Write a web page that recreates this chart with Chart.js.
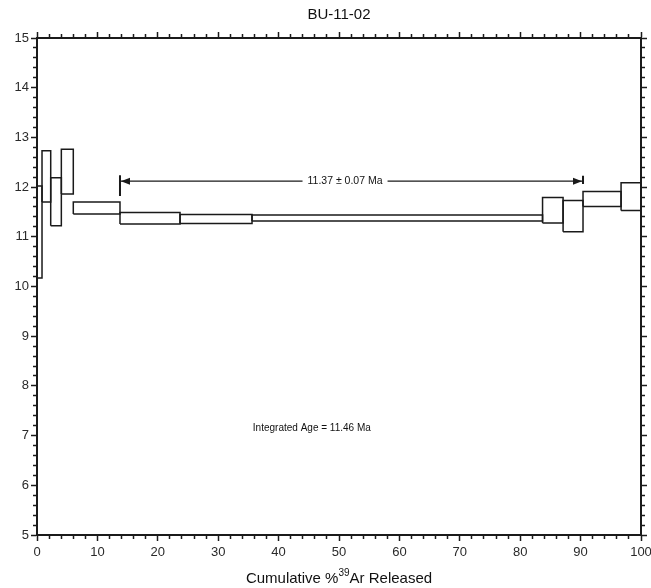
<!DOCTYPE html>
<html>
<head>
<meta charset="utf-8">
<script src="https://cdn.jsdelivr.net/npm/chart.js@4.4.1/dist/chart.umd.min.js"></script>
<style>
  html, body { margin: 0; padding: 0; background: #fff; }
  #wrap { width: 651px; height: 588px; position: relative; }
</style>
</head>
<body>
<div id="wrap"><canvas id="chart-spectrum"></canvas></div>
<script>
const sampleName = 'BU-11-02'
// axis title pieces: text, superscript, text
const xAxisLabel = ['Cumulative %', '39', 'Ar Released']

// cumulative %39Ar at each step boundary
const stepEdges = [0, 0.83, 2.27, 4.03, 6.01, 13.74, 23.68, 35.6, 83.7, 87.1, 90.4, 96.7, 100]
// age box top / bottom (Ma) for each step
const ageTop = [12.02, 12.73, 12.19, 12.76, 11.70, 11.49, 11.45, 11.44, 11.79, 11.73, 11.91, 12.09]
const ageBottom = [10.17, 11.70, 11.22, 11.86, 11.46, 11.26, 11.27, 11.32, 11.28, 11.10, 11.61, 11.53]

const plateauRange = [13.74, 90.4]
const plateauLabel = '11.37 ± 0.07 Ma'
const integratedLabel = 'Integrated Age = 11.46 Ma'

const xRange = [0, 100]
const yRange = [5, 15]

const fontFamily = '"Liberation Sans", Arial, Helvetica, sans-serif'
const ink = '#1a1a1a'

Chart.defaults.font.family = fontFamily
Chart.defaults.color = '#2a2a2a'

const datasets = ageTop.map((top, i) => {
  const x0 = stepEdges[i]
  const x1 = stepEdges[i + 1]
  const lo = ageBottom[i]
  return {
    label: 'step ' + (i + 1),
    data: [
      {x: x0, y: lo}, {x: x0, y: top}, {x: x1, y: top}, {x: x1, y: lo}, {x: x0, y: lo}
    ],
    showLine: true,
    borderColor: ink,
    borderWidth: 1.5,
    pointRadius: 0,
    fill: false,
    tension: 0,
    xAxisID: 'x',
    yAxisID: 'y'
  }
})

const isMajor = v => Math.abs(v - Math.round(v)) < 1e-6
const isMajorX = v => Math.abs(v / 10 - Math.round(v / 10)) < 1e-6

// minor ticks drawn shorter with a dash pattern
const dashOut = major => major ? [] : [3, 100]
const dashIn = major => major ? [] : [0, 2, 3, 100]

const annotations = {
  id: 'annotations',
  afterDatasetsDraw(chart) {
    const {ctx, scales: {x, y}} = chart
    const x0 = x.getPixelForValue(plateauRange[0])
    const x1 = x.getPixelForValue(plateauRange[1])
    const ay = y.getPixelForValue(12.12)
    ctx.save()
    ctx.strokeStyle = ink
    ctx.fillStyle = ink
    ctx.lineWidth = 1.3
    ctx.beginPath()
    ctx.moveTo(x0, ay)
    ctx.lineTo(x1, ay)
    ctx.stroke()

    ctx.lineWidth = 2
    ctx.beginPath()
    ctx.moveTo(x0, y.getPixelForValue(12.24))
    ctx.lineTo(x0, y.getPixelForValue(11.82))
    ctx.moveTo(x1, y.getPixelForValue(12.23))
    ctx.lineTo(x1, y.getPixelForValue(12.06))
    ctx.stroke()

    ctx.beginPath()
    ctx.moveTo(x0 + 1, ay)
    ctx.lineTo(x0 + 10, ay - 3.5)
    ctx.lineTo(x0 + 10, ay + 3.5)
    ctx.closePath()
    ctx.fill()
    ctx.beginPath()
    ctx.moveTo(x1 - 1, ay)
    ctx.lineTo(x1 - 10, ay - 3.5)
    ctx.lineTo(x1 - 10, ay + 3.5)
    ctx.closePath()
    ctx.fill()

    ctx.font = '10.5px ' + fontFamily
    ctx.textAlign = 'center'
    ctx.textBaseline = 'middle'
    const tx = x.getPixelForValue(51)
    const w = ctx.measureText(plateauLabel).width
    ctx.fillStyle = '#fff'
    ctx.fillRect(tx - w / 2 - 5, ay - 5, w + 10, 10)
    ctx.fillStyle = '#111'
    ctx.fillText(plateauLabel, tx, ay)

    ctx.font = '10px ' + fontFamily
    ctx.fillText(integratedLabel, x.getPixelForValue(45.5), y.getPixelForValue(7.15))

    // x axis title with superscript mass number
    const big = '15px ' + fontFamily
    const small = '10px ' + fontFamily
    ctx.font = big
    const w1 = ctx.measureText(xAxisLabel[0]).width
    const w3 = ctx.measureText(xAxisLabel[2]).width
    ctx.font = small
    const w2 = ctx.measureText(xAxisLabel[1]).width
    const cx = (chart.chartArea.left + chart.chartArea.right) / 2
    const by = chart.height - 5
    let px = cx - (w1 + w2 + w3) / 2
    ctx.textAlign = 'left'
    ctx.textBaseline = 'alphabetic'
    ctx.font = big
    ctx.fillText(xAxisLabel[0], px, by)
    px += w1
    ctx.font = small
    ctx.fillText(xAxisLabel[1], px, by - 7)
    px += w2
    ctx.font = big
    ctx.fillText(xAxisLabel[2], px, by)
    ctx.restore()
  }
}

const axisBorder = {display: true, color: ink, width: 2}
const tickFont = {size: 13}

new Chart(document.getElementById('chart-spectrum').getContext('2d'), {
  type: 'scatter',
  data: {datasets},
  options: {
    responsive: true,
    maintainAspectRatio: false,
    animation: false,
    layout: {padding: 0},
    plugins: {
      legend: {display: false},
      tooltip: {enabled: false},
      title: {display: false}
    },
    scales: {
      x: {
        type: 'linear',
        position: 'bottom',
        min: xRange[0],
        max: xRange[1],
        border: axisBorder,
        grid: {
          drawOnChartArea: false,
          tickLength: 6,
          tickColor: ink,
          tickWidth: 1.5,
          tickBorderDash: ctx => dashOut(isMajorX(ctx.tick.value))
        },
        ticks: {
          stepSize: 2,
          autoSkip: false,
          maxRotation: 0,
          padding: 4,
          font: tickFont,
          callback: v => isMajorX(v) ? String(Math.round(v)) : ''
        },
        afterFit: s => { s.height = 53; s.paddingLeft = 0; s.paddingRight = 0 }
      },
      x2: {
        type: 'linear',
        position: 'top',
        min: xRange[0],
        max: xRange[1],
        border: axisBorder,
        grid: {
          drawOnChartArea: false,
          tickLength: 6,
          tickColor: ink,
          tickWidth: 1.5,
          tickBorderDash: ctx => dashIn(isMajorX(ctx.tick.value))
        },
        ticks: {stepSize: 2, autoSkip: false, display: false},
        title: {
          display: true,
          text: sampleName,
          color: '#111',
          font: {size: 15},
          padding: {top: 6, bottom: 0}
        },
        afterFit: s => { s.height = 38; s.paddingLeft = 0; s.paddingRight = 0 }
      },
      y: {
        type: 'linear',
        position: 'left',
        min: yRange[0],
        max: yRange[1],
        border: axisBorder,
        grid: {
          drawOnChartArea: false,
          tickLength: 6,
          tickColor: ink,
          tickWidth: 1.5,
          tickBorderDash: ctx => dashIn(isMajor(ctx.tick.value))
        },
        ticks: {
          stepSize: 0.2,
          autoSkip: false,
          padding: 2,
          font: tickFont,
          callback: v => isMajor(v) ? String(Math.round(v)) : ''
        },
        afterFit: s => { s.width = 37; s.paddingTop = 0; s.paddingBottom = 0 }
      },
      y2: {
        type: 'linear',
        position: 'right',
        min: yRange[0],
        max: yRange[1],
        border: axisBorder,
        grid: {
          drawOnChartArea: false,
          tickLength: 6,
          tickColor: ink,
          tickWidth: 1.5,
          tickBorderDash: ctx => dashOut(isMajor(ctx.tick.value))
        },
        ticks: {stepSize: 0.2, autoSkip: false, display: false},
        afterFit: s => { s.width = 10; s.paddingTop = 0; s.paddingBottom = 0 }
      }
    }
  },
  plugins: [annotations]
})
</script>
</body>
</html>
